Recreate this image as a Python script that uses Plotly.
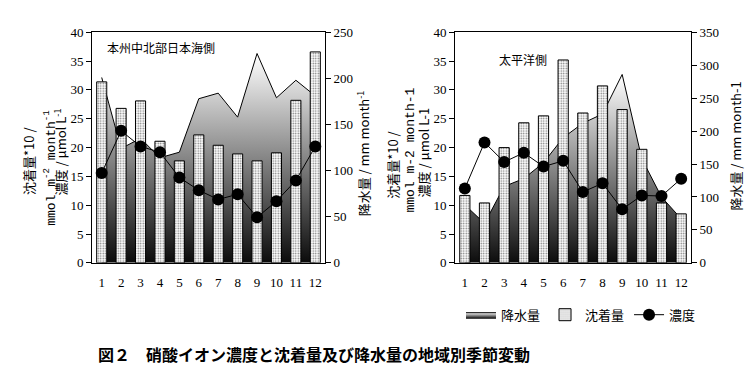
import plotly.graph_objects as go

months = list(range(1, 13))
month_labels = [str(m) for m in months]

# 本州中北部日本海側
sea_precip = [201, 124, 135, 114, 120, 178, 184, 158, 227, 179, 198, 181]
sea_deposit = [31.4, 26.8, 28.1, 21.1, 17.7, 22.2, 20.4, 18.9, 17.7, 19.1, 28.2, 36.6]
sea_conc = [15.6, 22.9, 20.2, 19.2, 14.8, 12.6, 11.0, 11.9, 7.9, 10.7, 14.3, 20.2]

# 太平洋側
pac_precip = [88, 60, 116, 128, 152, 190, 212, 226, 286, 158, 100, 67]
pac_deposit = [11.7, 10.4, 20.0, 24.3, 25.5, 35.2, 26.0, 30.7, 26.6, 19.7, 10.4, 8.5]
pac_conc = [12.9, 20.9, 17.5, 19.1, 16.7, 17.7, 12.3, 13.8, 9.3, 11.7, 11.6, 14.6]

W, H = 754, 382
CJK = "Noto Sans CJK JP"
NUM = "Liberation Serif"

fig = go.Figure()

def add_panel(precip, deposit, conc, xa, y_pr, y_lf, show):
    fig.add_trace(go.Scatter(
        x=months, y=precip, mode="lines", name="降水量",
        line=dict(color="black", width=1), fill="tozeroy",
        fillgradient=dict(type="vertical", start=0, stop=max(precip),
                          colorscale=[[0, "black"], [1, "white"]]),
        xaxis=xa, yaxis=y_pr, showlegend=show))
    fig.add_trace(go.Bar(
        x=months, y=deposit, name="沈着量", width=0.52,
        marker=dict(color="white", line=dict(color="black", width=1),
                    pattern=dict(shape=".", fgcolor="black", bgcolor="white",
                                 size=2.5, solidity=0.3)),
        xaxis=xa, yaxis=y_lf, showlegend=show))
    fig.add_trace(go.Scatter(
        x=months, y=conc, mode="lines+markers", name="濃度",
        line=dict(color="black", width=1),
        marker=dict(color="black", size=12),
        xaxis=xa, yaxis=y_lf, showlegend=show))

add_panel(sea_precip, sea_deposit, sea_conc, "x", "y", "y2", True)
add_panel(pac_precip, pac_deposit, pac_conc, "x2", "y3", "y4", False)

ydom = [1 - 258 / H, 1 - 18 / H]
tick_font = dict(family=NUM, size=13, color="black")

xcommon = dict(range=[0.5, 12.5], tickvals=months, ticktext=month_labels,
               showline=True, linecolor="black", linewidth=1, mirror=True,
               ticks="", showgrid=False, zeroline=False, tickfont=tick_font,
               ticklabelstandoff=8)
ycommon = dict(showline=True, linecolor="black", linewidth=1, ticks="outside",
               ticklen=5, tickcolor="black", showgrid=False, zeroline=False,
               tickfont=tick_font)

fig.update_layout(
    width=W, height=H, margin=dict(l=0, r=0, t=0, b=0),
    paper_bgcolor="white", plot_bgcolor="white",
    barmode="overlay",
    xaxis=dict(domain=[84 / W, 317 / W], anchor="y", **xcommon),
    yaxis=dict(domain=ydom, range=[0, 250], dtick=50, side="right", anchor="x", **ycommon),
    yaxis2=dict(range=[0, 40], dtick=5, side="left", overlaying="y", anchor="x", **ycommon),
    xaxis2=dict(domain=[447 / W, 683 / W], anchor="y3", **xcommon),
    yaxis3=dict(domain=ydom, range=[0, 350], dtick=50, side="right", anchor="x2", **ycommon),
    yaxis4=dict(range=[0, 40], dtick=5, side="left", overlaying="y3", anchor="x2", **ycommon),
    legend=dict(orientation="h", x=573 / W, xanchor="center", y=1 - 312 / H, yanchor="middle",
                font=dict(family=CJK, size=13, color="black"), bgcolor="rgba(0,0,0,0)",
                traceorder="normal"),
    font=dict(family=CJK, color="black"),
)

def ann(text, px, py, size=13, angle=0, family=CJK, xanchor="center", bold=False):
    if bold:
        text = "<b>" + text + "</b>"
    fig.add_annotation(text=text, x=px / W, y=1 - py / H, xref="paper", yref="paper",
                       showarrow=False, textangle=angle, xanchor=xanchor, yanchor="middle",
                       font=dict(family=family, size=size, color="black"))

# Left panel axis titles
ann("沈着量*10 /", 20, 152, 13, -90)
ann("mmol m<sup>-2</sup> month<sup>-1</sup>", 42, 159, 13, -90, family="Liberation Mono")
ann("濃度 / μmol L<sup>-1</sup>", 52, 143, 13, -90)
ann("降水量 / mm month<sup>-1</sup>", 355, 144, 13, -90)
ann("本州中北部日本海側", 153, 34, 12)

# Right panel axis titles
ann("沈着量*10 /", 385, 156, 13, -90)
ann("mmol m-2 month-1", 403, 140, 13, -90, family="Liberation Mono")
ann("濃度 / μmol L-1", 415, 143, 13, -90)
ann("降水量 / mm month-1", 728, 137, 13, -90)
ann("太平洋側", 515, 46, 12)

# Caption
ann("図２　硝酸イオン濃度と沈着量及び降水量の地域別季節変動", 88, 353, 16, 0, xanchor="left", bold=True)

fig.write_html("out.html")
